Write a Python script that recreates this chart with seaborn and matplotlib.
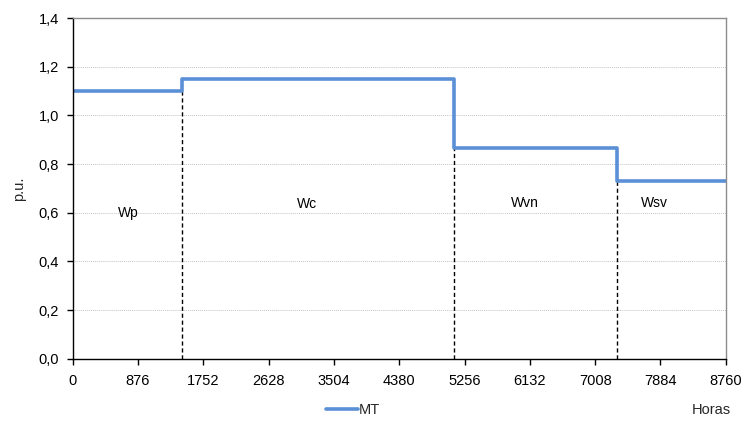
import matplotlib
matplotlib.use("Agg")
import matplotlib.pyplot as plt
import seaborn as sns
import pandas as pd
from matplotlib.lines import Line2D

hours = [0, 1460, 5110, 7300, 8760]
pu_values = [1.10, 1.15, 0.865, 0.73, 0.73]
period_labels = ["Wp", "Wc", "Wvn", "Wsv"]
label_x = [740, 3140, 6065, 7810]
label_y = [0.60, 0.635, 0.64, 0.64]
x_ticks = [0, 876, 1752, 2628, 3504, 4380, 5256, 6132, 7008, 7884, 8760]
y_ticks = [0.0, 0.2, 0.4, 0.6, 0.8, 1.0, 1.2, 1.4]

sns.set_style("white")
plt.rcParams['font.family'] = ['Liberation Sans', 'DejaVu Sans']

df = pd.DataFrame({"Horas": hours, "pu": pu_values, "serie": "MT"})

fig = plt.figure(figsize=(7.43, 4.21), dpi=100)
ax = fig.add_axes([0.0978, 0.148, 0.879, 0.809])

color = "#5B8FD6"
sns.lineplot(data=df, x="Horas", y="pu", hue="serie", palette=[color],
             drawstyle="steps-post", linewidth=2.6, ax=ax)

# dashed boundaries
for i in range(1, 4):
    top = min(pu_values[i - 1], pu_values[i])
    ax.plot([hours[i], hours[i]], [0, top], color="black", linestyle=(0, (3, 2)),
            linewidth=1.0, zorder=1)

for lab, lx, ly in zip(period_labels, label_x, label_y):
    ax.text(lx, ly, lab, ha="center", va="center", fontsize=10, color="black")

ax.set_xlim(0, 8760)
ax.set_ylim(0, 1.4)
ax.set_xticks(x_ticks)
ax.set_yticks(y_ticks)
ax.set_yticklabels([f"{v:.1f}".replace(".", ",") for v in y_ticks])
ax.tick_params(axis="both", labelsize=10.5, length=4, width=1, direction="out",
               bottom=True, left=True, colors="black")
ax.tick_params(axis="x", pad=7)
ax.tick_params(axis="y", pad=6)
ax.yaxis.grid(True, color="#c4c4c4", linestyle=(0, (1, 1)), linewidth=0.7)
ax.xaxis.grid(False)

for side in ["left", "bottom"]:
    ax.spines[side].set_color("black")
    ax.spines[side].set_linewidth(1.0)
for side in ["top", "right"]:
    ax.spines[side].set_color("#8c8c8c")
    ax.spines[side].set_linewidth(1.0)

ax.set_xlabel("")
ax.set_ylabel("p.u.", fontsize=10.5)
ax.yaxis.set_label_coords(-0.072, 0.5)
fig.text(0.958, 0.026, "Horas", ha="center", va="center", fontsize=10.5)

ax.get_legend().remove()
h = [Line2D([0], [0], color=color, linewidth=2.6)]
fig.legend(h, ["MT"], loc="center", bbox_to_anchor=(0.475, 0.026), frameon=False,
           fontsize=10.5, handlelength=2.2, handletextpad=0.1)

fig.savefig("out.png", dpi=100)
